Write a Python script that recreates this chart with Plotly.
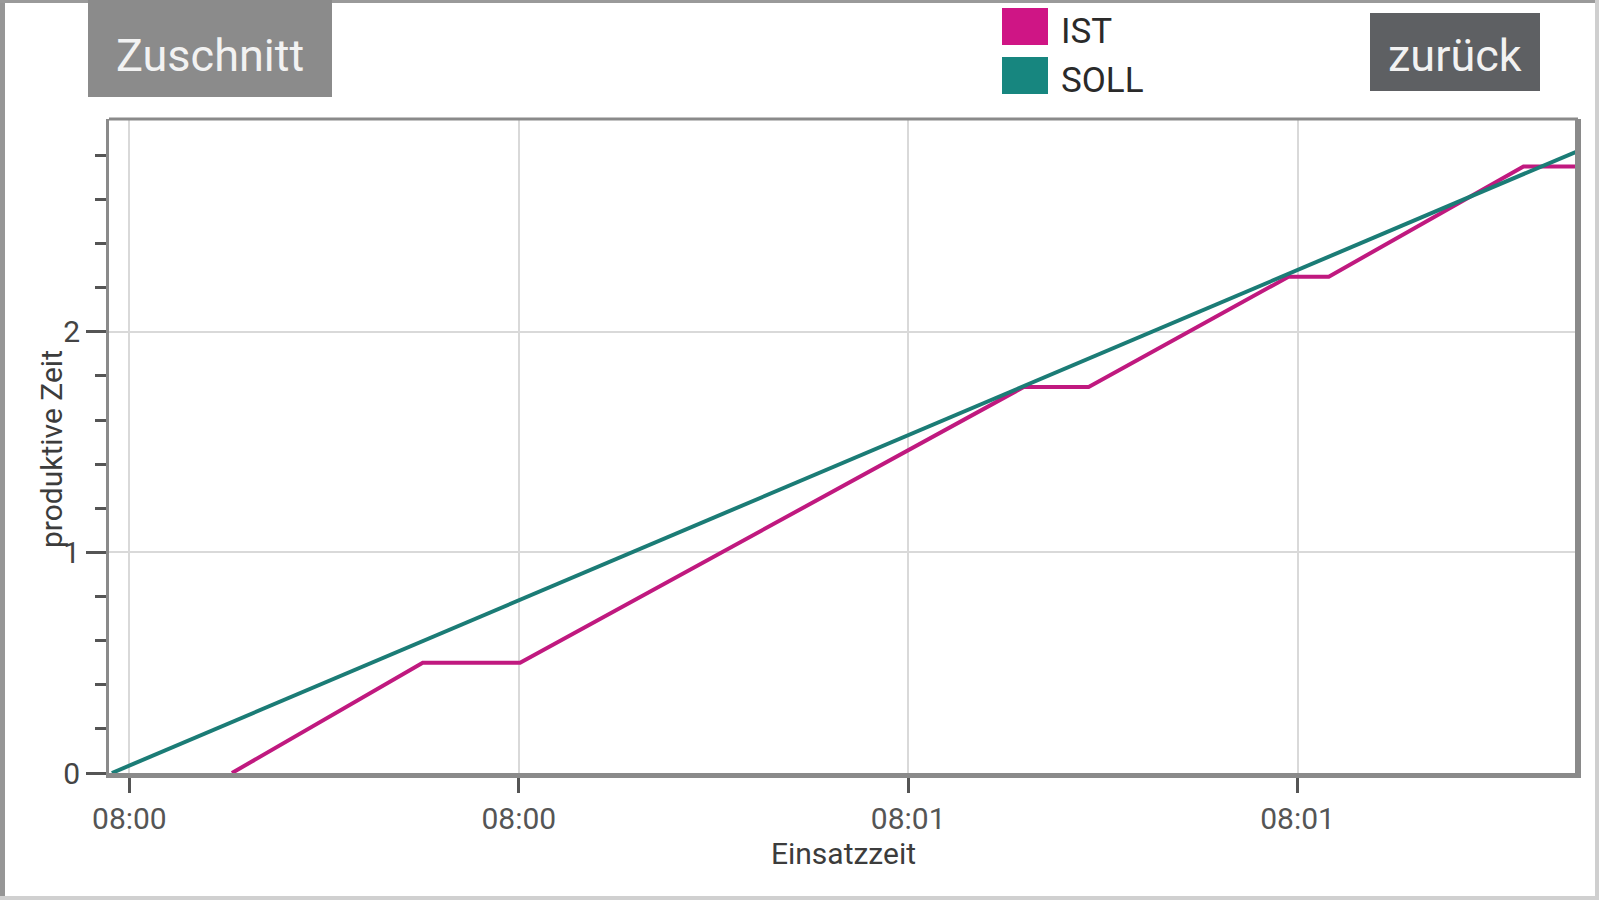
import pandas as pd
import plotly.graph_objects as go

# ---------------- data ----------------
base_time = "2024-01-01 08:00:00"
ist_seconds = [7.9, 22.6, 30.1, 68.9, 73.9, 89.3, 92.4, 107.4, 111.6]
ist_values = [0.0, 0.5, 0.5, 1.75, 1.75, 2.25, 2.25, 2.75, 2.75]
soll_seconds = [-1.35, 111.6]
soll_values = [0.0, 2.82]
x_range_seconds = [-1.57, 111.6]
y_range = [0, 2.965]
series_names = ["IST", "SOLL"]
series_colors = ["#c0197f", "#1b7c76"]
legend_colors = ["#cf1585", "#17867f"]
x_title = "Einsatzzeit"
y_title = "produktive Zeit"
button_labels = ["Zuschnitt", "zurück"]

base = pd.Timestamp(base_time)
def to_t(secs):
    return [base + pd.Timedelta(seconds=s) for s in secs]

W, H = 1599, 900
L, R, T, B = 109, 1578, 119, 773

def px(x):
    return (x - L) / (R - L)

def py(y):
    return (B - y) / (B - T)

FONT = "Roboto, Arial, sans-serif"

fig = go.Figure()
fig.add_trace(go.Scatter(x=to_t(ist_seconds), y=ist_values, mode="lines",
                         name=series_names[0], line=dict(color=series_colors[0], width=4),
                         showlegend=False))
fig.add_trace(go.Scatter(x=to_t(soll_seconds), y=soll_values, mode="lines",
                         name=series_names[1], line=dict(color=series_colors[1], width=4),
                         showlegend=False))

fig.update_layout(
    width=W, height=H,
    margin=dict(l=L, r=W - R, t=T, b=H - B, autoexpand=False),
    paper_bgcolor="white", plot_bgcolor="white",
    font=dict(family=FONT, color="#444444"),
    showlegend=False,
)

fig.update_xaxes(
    type="date",
    range=to_t(x_range_seconds),
    tick0=base, dtick=30000, tickformat="%H:%M",
    showgrid=True, gridcolor="#d9d9d9", gridwidth=2,
    showline=True, linecolor="#8a8a8a", linewidth=5, mirror=False,
    ticks="outside", ticklen=15, tickwidth=3, tickcolor="#555555",
    ticklabelstandoff=0,
    tickfont=dict(size=30, color="#555555", family=FONT),
    title=dict(text=x_title, font=dict(size=30, color="#3c3c3c", family=FONT), standoff=4),
    zeroline=False,
)
fig.update_yaxes(
    range=y_range, dtick=1, tick0=0,
    showgrid=True, gridcolor="#d9d9d9", gridwidth=2,
    showline=True, linecolor="#8a8a8a", linewidth=3, mirror=True,
    ticks="outside", ticklen=20, tickwidth=3, tickcolor="#555555",
    ticklabelstandoff=0,
    tickfont=dict(size=30, color="#444444", family=FONT),
    minor=dict(dtick=0.2, ticks="outside", ticklen=11, tickwidth=3, tickcolor="#555555", showgrid=False),
    zeroline=False,
)

shapes = []
# top border of plot area
shapes.append(dict(type="line", xref="paper", yref="paper", x0=px(L), x1=px(R), y0=py(T), y1=py(T),
                   line=dict(color="#8a8a8a", width=3)))
# right border
shapes.append(dict(type="line", xref="paper", yref="paper", x0=px(R - 1), x1=px(R - 1), y0=py(B), y1=py(T),
                   line=dict(color="#8a8a8a", width=4)))

# outer frame
for (x0, y0, x1, y1, c) in [(0, 0, 5, H, "#969696"), (0, 0, W, 3, "#9a9a9a"),
                            (W - 4, 0, W, H, "#cfcfcf"), (0, H - 4, W, H, "#d0d0d0")]:
    shapes.append(dict(type="rect", xref="paper", yref="paper", x0=px(x0), x1=px(x1), y0=py(y1), y1=py(y0),
                       line=dict(width=0), fillcolor=c, layer="above"))

# buttons
btn = [(88, 0, 332, 97, "#8b8b8b"), (1370, 13, 1540, 91, "#5e6063")]
for (x0, y0, x1, y1, c) in btn:
    shapes.append(dict(type="rect", xref="paper", yref="paper", x0=px(x0), x1=px(x1), y0=py(y1), y1=py(y0),
                       line=dict(width=0), fillcolor=c, layer="above"))

# legend squares
leg = [(1002, 8, 1048, 45), (1002, 57, 1048, 94)]
for (x0, y0, x1, y1), c in zip(leg, legend_colors):
    shapes.append(dict(type="rect", xref="paper", yref="paper", x0=px(x0), x1=px(x1), y0=py(y1), y1=py(y0),
                       line=dict(width=0), fillcolor=c, layer="above"))

annotations = []
for (x0, y0, x1, y1, c), label in zip(btn, button_labels):
    annotations.append(dict(xref="paper", yref="paper", x=px((x0 + x1) / 2), y=py(55),
                            text=label, showarrow=False, xanchor="center", yanchor="middle",
                            font=dict(size=45, color="#f2f2f2", family=FONT)))
for (x0, y0, x1, y1), name in zip(leg, series_names):
    annotations.append(dict(xref="paper", yref="paper", x=px(1059), y=py((y0 + y1) / 2 + 5),
                            text=name, showarrow=False, xanchor="left", yanchor="middle",
                            font=dict(size=35, color="#2a2a2a", family=FONT)))
# y-axis title
annotations.append(dict(xref="paper", yref="paper", x=px(51), y=py(449), text=y_title,
                        textangle=-90, showarrow=False, xanchor="center", yanchor="middle",
                        font=dict(size=30, color="#3c3c3c", family=FONT)))

fig.update_layout(shapes=shapes, annotations=annotations)
fig.write_html("out.html", config={"displayModeBar": False},
               post_script="document.body.style.margin='0';document.body.style.overflow='hidden';")
